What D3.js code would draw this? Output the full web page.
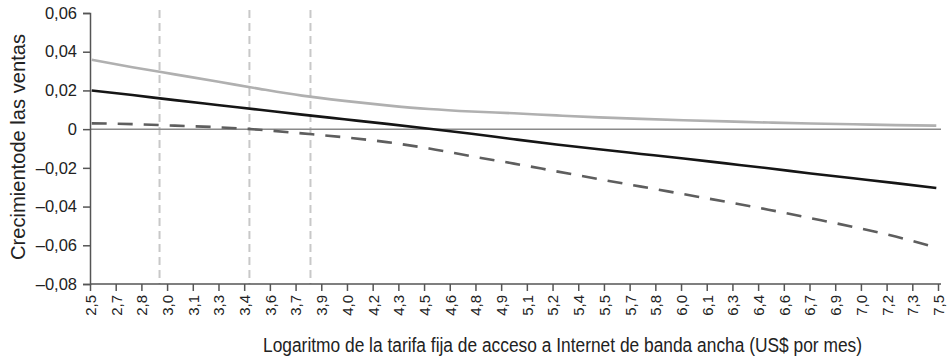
<!DOCTYPE html>
<html><head><meta charset="utf-8">
<script src="https://cdn.jsdelivr.net/npm/d3@7"></script>
<style>
body{margin:0;background:#fff;}
svg{display:block;}
text{font-family:"Liberation Sans",Arial,sans-serif;fill:#222;}
</style></head>
<body><svg id="c" width="952" height="364"></svg>
<script>
const tickLabels = ["2,5","2,7","2,8","3,0","3,1","3,3","3,4","3,6","3,7","3,9","4,0","4,2","4,3","4,5","4,6","4,8","4,9","5,1","5,2","5,4","5,5","5,7","5,8","6,0","6,1","6,3","6,4","6,6","6,7","6,9","7,0","7,2","7,3","7,5"];
const yTicks = [0.06,0.04,0.02,0,-0.02,-0.04,-0.06,-0.08];
const xs = [2.51,2.75,3.0,3.25,3.5,3.75,4.0,4.25,4.5,4.75,5.0,5.25,5.5,5.75,6.0,6.25,6.5,6.75,7.0,7.25,7.49];
const serieGris = [0.0358,0.0320,0.0283,0.0246,0.0208,0.0173,0.0146,0.0123,0.0104,0.0091,0.0082,0.0071,0.0061,0.0053,0.0046,0.0040,0.0034,0.0029,0.0025,0.0021,0.0018];
const serieNegra = [0.0200,0.0176,0.0150,0.0125,0.0100,0.0075,0.0051,0.0027,0.0002,-0.0024,-0.0052,-0.0079,-0.0104,-0.0128,-0.0152,-0.0177,-0.0202,-0.0229,-0.0254,-0.0279,-0.0304];
const serieDiscontinua = [0.0030,0.0026,0.0018,0.0010,-0.0003,-0.0022,-0.0042,-0.0067,-0.0100,-0.0140,-0.0178,-0.0218,-0.0258,-0.0297,-0.0336,-0.0375,-0.0416,-0.0460,-0.0505,-0.0555,-0.0612];
const verticales = [2.91,3.44,3.80];

const svg = d3.select("#c");
const L=90, R=938, T=13, B=284;
const x = d3.scaleLinear().domain([2.5,7.5]).range([L,R]);
const xp = d3.scalePoint().domain(tickLabels).range([L,R]);
const y = d3.scaleLinear().domain([-0.08,0.06]).range([B,T]);

// vertical reference lines
svg.selectAll("line.v").data(verticales).enter().append("line")
  .attr("x1",d=>x(d)).attr("x2",d=>x(d)).attr("y1",10).attr("y2",B)
  .attr("stroke","#c8c8c8").attr("stroke-width",2).attr("stroke-dasharray","8,5");

// zero line
svg.append("line").attr("x1",L).attr("x2",941).attr("y1",y(0)).attr("y2",y(0))
  .attr("stroke","#8a8a8a").attr("stroke-width",1.5);

// axes
const fmt = d => d===0 ? "0" : (d<0?"\u2013":"") + Math.abs(d).toFixed(2).replace(".",",");
const ya = svg.append("g").attr("transform",`translate(${L},0)`)
  .call(d3.axisLeft(y).tickValues(yTicks).tickFormat(fmt).tickSize(7).tickPadding(6));
ya.select(".domain").attr("stroke","#555").attr("stroke-width",1.5);
ya.selectAll(".tick line").attr("stroke","#555").attr("stroke-width",1.5);
ya.selectAll(".tick text").attr("font-size",16.5).style("fill","#222");

const xa = svg.append("g").attr("transform",`translate(0,${B})`)
  .call(d3.axisBottom(xp).tickSize(7).tickSizeOuter(0));
xa.select(".domain").attr("d",`M${L},0H941`).attr("stroke","#555").attr("stroke-width",1.5);
xa.selectAll(".tick line").attr("stroke","#555").attr("stroke-width",1.5);
xa.selectAll(".tick text").attr("font-size",15).style("fill","#222")
  .attr("transform","rotate(-90)").attr("text-anchor","end")
  .attr("x",-11).attr("y",0).attr("dy","0.36em");

// series
const line = d3.line().x((d,i)=>x(xs[i])).y(d=>y(d)).curve(d3.curveMonotoneX);
svg.append("path").datum(serieGris).attr("d",line).attr("fill","none")
  .attr("stroke","#b0b0b0").attr("stroke-width",2.6);
svg.append("path").datum(serieNegra).attr("d",line).attr("fill","none")
  .attr("stroke","#151515").attr("stroke-width",2.6);
svg.append("path").datum(serieDiscontinua).attr("d",line).attr("fill","none")
  .attr("stroke","#5e5e5e").attr("stroke-width",2.6).attr("stroke-dasharray","15,11");

// titles
svg.append("text").attr("x",263).attr("y",352)
  .attr("font-size",20).attr("textLength",599).attr("lengthAdjust","spacingAndGlyphs")
  .text("Logaritmo de la tarifa fija de acceso a Internet de banda ancha (US$ por mes)");
svg.append("text").attr("transform","translate(25,260) rotate(-90)")
  .attr("font-size",20.5).attr("textLength",226).attr("lengthAdjust","spacingAndGlyphs")
  .text("Crecimientode las ventas");
</script></body></html>
